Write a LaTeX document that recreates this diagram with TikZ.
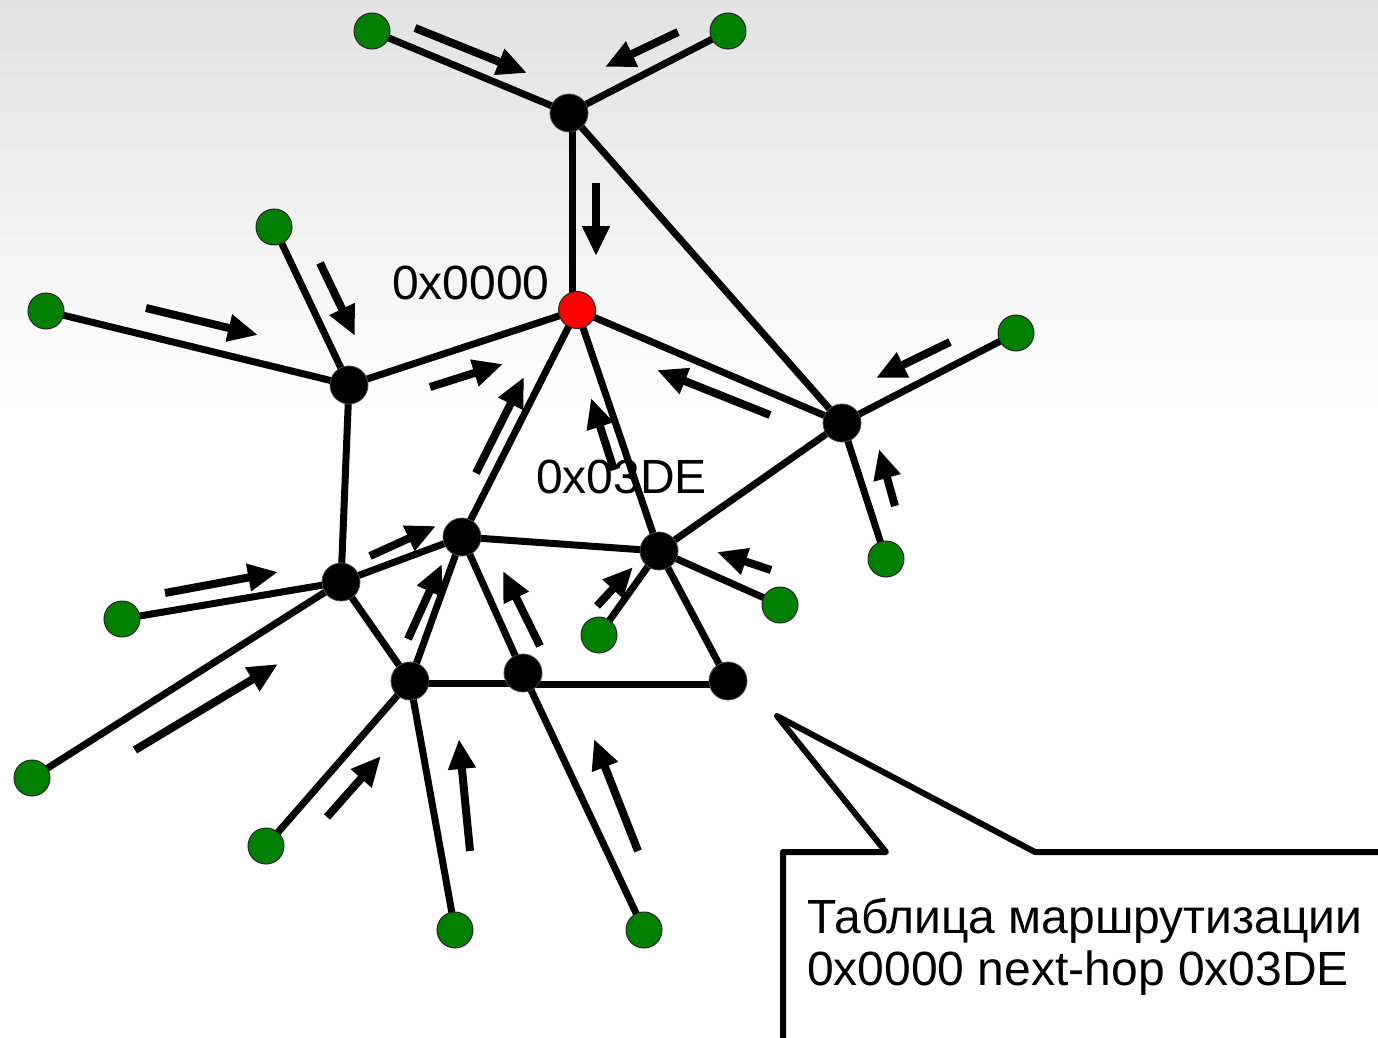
\documentclass[tikz,border=0pt]{standalone}
\usepackage{fontspec}
\setmainfont{Liberation Sans}
\usetikzlibrary{arrows.meta}
\definecolor{leaf}{RGB}{0,128,0}
\definecolor{root}{RGB}{255,0,0}
\definecolor{bgtop}{RGB}{226,226,226}
\pgfdeclarelayer{back}
\pgfdeclarelayer{links}
\pgfsetlayers{back,links,main}

\begin{document}
\begin{tikzpicture}[x=1pt,y=-1pt,
  router/.style={circle,fill=black,draw=black!70,line width=0.8pt,minimum size=38pt,inner sep=0pt},
  enddev/.style={circle,fill=leaf,draw=black!85,line width=1pt,minimum size=36pt,inner sep=0pt},
  coord/.style={circle,fill=root,draw=black!85,line width=1pt,minimum size=37pt,inner sep=0pt},
  link/.style={line width=7pt},
  flow/.style={line width=8pt,-{Triangle[length=30pt,width=26pt]}},
  lbl/.style={font=\fontsize{48}{54}\selectfont,inner sep=0pt}]

\useasboundingbox (0,0) rectangle (1378,1038);
\clip (0,0) rectangle (1378,1038);

% slide background
\begin{pgfonlayer}{back}
  \fill[white] (0,0) rectangle (1378,1038);
  \fill[top color=bgtop,bottom color=white] (0,0) rectangle (1378,410);
\end{pgfonlayer}

% routers
\node[router] (T) at (569,113) {};
\node[coord]  (R) at (577,310) {};
\node[router] (A) at (349,385) {};
\node[router] (B) at (842,423) {};
\node[router] (C) at (462,537) {};
\node[router] (D) at (659,551) {};
\node[router] (E) at (341,582) {};
\node[router] (F) at (410,681) {};
\node[router] (G) at (523,673) {};
\node[router] (H) at (728,681) {};

% end devices
\node[enddev] (g1)  at (372,31)  {};
\node[enddev] (g2)  at (728,31)  {};
\node[enddev] (g3)  at (274,227) {};
\node[enddev] (g4)  at (46,311)  {};
\node[enddev] (g5)  at (1016,333) {};
\node[enddev] (g6)  at (886,559) {};
\node[enddev] (g7)  at (780,605) {};
\node[enddev] (g8)  at (599,635) {};
\node[enddev] (g9)  at (122,619) {};
\node[enddev] (g10) at (32,778)  {};
\node[enddev] (g11) at (266,846) {};
\node[enddev] (g12) at (455,930) {};
\node[enddev] (g13) at (644,930) {};

% links
\begin{pgfonlayer}{links}
  \draw[link] (T.center) -- (g1.center);
  \draw[link] (T.center) -- (g2.center);
  \draw[link] ([xshift=3pt]T.center) -- ([xshift=-5pt]R.center);
  \draw[link] (T.center) -- (B.center);
  \draw[link] (R.center) -- (A.center);
  \draw[link] (R.center) -- (B.center);
  \draw[link] (R.center) -- (C.center);
  \draw[link] (R.center) -- (D.center);
  \draw[link] (A.center) -- (g3.center);
  \draw[link] (A.center) -- (g4.center);
  \draw[link] (A.center) -- (E.center);
  \draw[link] (B.center) -- (g5.center);
  \draw[link] (B.center) -- (g6.center);
  \draw[link] (B.center) -- (D.center);
  \draw[link] (C.center) -- (E.center);
  \draw[link] (C.center) -- (D.center);
  \draw[link] (C.center) -- (F.center);
  \draw[link] (C.center) -- (G.center);
  \draw[link] (D.center) -- (g7.center);
  \draw[link] (D.center) -- (g8.center);
  \draw[link] (D.center) -- (H.center);
  \draw[link] (E.center) -- (g9.center);
  \draw[link] (E.center) -- (g10.center);
  \draw[link] (E.center) -- (F.center);
  \draw[link] ([yshift=-2pt]F.center) -- ([yshift=-2pt]G.center |- F.center);
  \draw[link] ([yshift=-3pt]G.center |- H.center) -- ([yshift=-3pt]H.center);
  \draw[link] (F.center) -- (g11.center);
  \draw[link] (F.center) -- (g12.center);
  \draw[link] (G.center) -- (g13.center);
\end{pgfonlayer}

% traffic direction towards the coordinator
\draw[flow] (415,28)  -- (527,73);
\draw[flow] (678,32)  -- (605,67);
\draw[flow] (596,183) -- (596,256);
\draw[flow] (320,263) -- (355,336);
\draw[flow] (146,308) -- (258,335);
\draw[flow] (430,387) -- (503,364);
\draw[flow] (476,473) -- (524,377);
\draw[flow] (614,470) -- (591,398);
\draw[flow] (770,415) -- (657,370);
\draw[flow] (950,342) -- (876,378);
\draw[flow] (895,506) -- (879,449);
\draw[flow] (771,570) -- (717,552);
\draw[flow] (597,606) -- (633,567);
\draw[flow] (165,593) -- (278,572);
\draw[flow] (135,750) -- (278,664);
\draw[flow] (370,556) -- (436,526);
\draw[flow] (408,639) -- (442,564);
\draw[flow] (540,646) -- (503,571);
\draw[flow] (327,817) -- (381,756);
\draw[flow] (470,851) -- (459,739);
\draw[flow] (638,851) -- (594,739);

% address labels
\node[lbl,anchor=base west] (lr) at (392,299) {0x0000};
\node[lbl,anchor=base west] (ld) at (536,493) {0x03DE};

% routing table callout
\draw[line width=6pt,line join=round,fill=white]
  (783,1050) -- (783,852) -- (886,852) -- (777,716) -- (1035,852)
  -- (1390,852) -- (1390,1050) -- cycle;
\node[lbl,anchor=base west] (t1) at (807,933) {Таблица маршрутизации};
\node[lbl,anchor=base west] (t2) at (807,985) {0x0000 next-hop 0x03DE};
\end{tikzpicture}
\end{document}
